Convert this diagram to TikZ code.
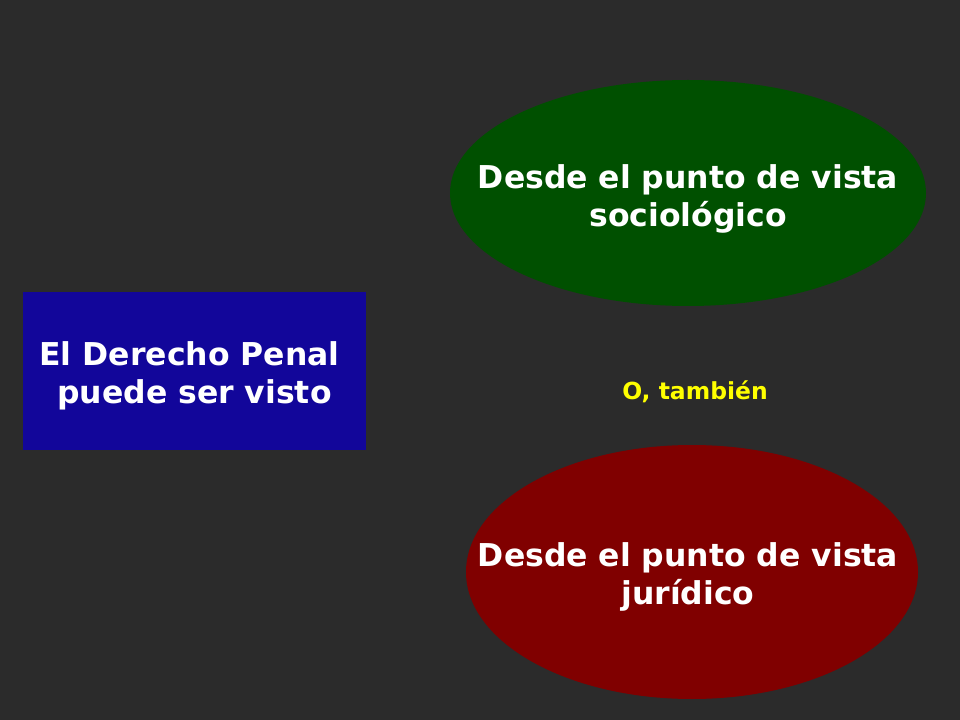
\documentclass[tikz,border=0pt]{standalone}
\usepackage{fontspec}
\setmainfont{DejaVu Sans}
\usetikzlibrary{shapes.geometric}
\definecolor{fondo}{HTML}{2B2B2B}
\definecolor{azul}{HTML}{12069A}
\definecolor{verde}{HTML}{005000}
\definecolor{rojo}{HTML}{800000}
\definecolor{amarillo}{HTML}{FFFF00}
\tikzstyle{texto}=[text=white,font=\bfseries\fontsize{23.6}{28.5}\selectfont,align=center,inner sep=0pt]
\tikzstyle{globo}=[ellipse,inner sep=0pt]

\begin{document}
\begin{tikzpicture}[x=0.75pt,y=-0.75pt]
    \fill[fondo] (0,0) rectangle (960,720);
    \useasboundingbox (0,0) rectangle (960,720);
    \node[fill=azul,minimum width=257.25pt,minimum height=118.5pt,inner sep=0pt] (derecho) at (194.5,371) {};
    \node[texto] (derechoT) at (194.5,376) {El Derecho Penal\kern7.5pt\\puede ser visto};
    \node[globo,fill=verde,minimum width=357pt,minimum height=169.5pt] (socio) at (688,193) {};
    \node[texto] (socioT) at (688,199) {Desde el punto de vista\\sociológico};
    \node[font=\bfseries\fontsize{17.6}{21}\selectfont,text=amarillo,inner sep=0pt] (tambien) at (695,392) {O, también};
    \node[globo,fill=rojo,minimum width=339pt,minimum height=190.5pt] (juri) at (692,572) {};
    \node[texto] (juriT) at (688,577) {Desde el punto de vista\\jurídico};
\end{tikzpicture}
\end{document}
